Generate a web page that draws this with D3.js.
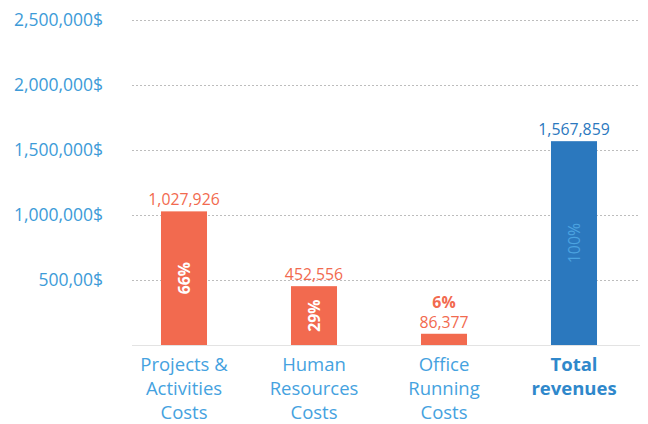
<!DOCTYPE html>
<html lang="en">
<head>
  <meta charset="UTF-8" />
  <title>Costs vs revenues</title>
  <script src="https://cdn.jsdelivr.net/npm/d3@7"></script>
  <style>
    body { margin: 0; background: #fff; }
    text { font-family: "Open Sans", sans-serif; }
  </style>
</head>
<body>
<script>
  // data
  var categories = [["Projects &", "Activities", "Costs"], ["Human", "Resources", "Costs"], ["Office", "Running", "Costs"], ["Total", "revenues"]];
  var values = [1027926, 452556, 86377, 1567859];
  var percents = ["66%", "29%", "6%", "100%"];
  var tickValues = [500000, 1000000, 1500000, 2000000, 2500000];
  var tickLabels = ["500,00$", "1,000,000$", "1,500,000$", "2,000,000$", "2,500,000$"];

  var w = 648, h = 424;
  var orange = "#f26a4f", blue = "#2b78be";

  var svg = d3.select("body").append("svg")
    .attr("width", w)
    .attr("height", h);

  var x = d3.scaleBand()
    .domain(d3.range(values.length))
    .range([119, 639])
    .paddingInner(0.646)
    .paddingOuter(0.323);

  var y = d3.scaleLinear()
    .domain([0, 2500000])
    .range([345, 20]);

  // grid
  svg.selectAll("line.grid")
    .data(tickValues)
    .enter()
    .append("line")
    .attr("class", "grid")
    .attr("x1", 132)
    .attr("x2", 640)
    .attr("y1", function(d) { return y(d) + 0.5; })
    .attr("y2", function(d) { return y(d) + 0.5; })
    .style("stroke", "#bdbdbd")
    .style("stroke-width", 1)
    .style("stroke-dasharray", "2,2");

  svg.append("line")
    .attr("x1", 132).attr("x2", 640)
    .attr("y1", y(0) + 0.5).attr("y2", y(0) + 0.5)
    .style("stroke", "#e3e3e3");

  // y labels
  svg.selectAll("text.ytick")
    .data(tickValues)
    .enter()
    .append("text")
    .attr("class", "ytick")
    .attr("x", 103)
    .attr("y", function(d) { return y(d); })
    .attr("dy", "0.35em")
    .attr("text-anchor", "end")
    .attr("font-size", "17.5px")
    .style("fill", "#3d9bd8")
    .text(function(d, i) { return tickLabels[i]; });

  // bars
  svg.selectAll("rect")
    .data(values)
    .enter()
    .append("rect")
    .attr("x", function(d, i) { return x(i); })
    .attr("width", x.bandwidth())
    .attr("y", function(d) { return y(d); })
    .attr("height", function(d) { return y(0) - y(d); })
    .style("fill", function(d, i) { return i == 3 ? blue : orange; });

  // value labels
  svg.selectAll("text.val")
    .data(values)
    .enter()
    .append("text")
    .attr("class", "val")
    .attr("x", function(d, i) { return x(i) + x.bandwidth() / 2; })
    .attr("y", function(d) { return y(d) - 6; })
    .attr("text-anchor", "middle")
    .attr("font-size", "15.8px")
    .style("fill", function(d, i) { return i == 3 ? blue : orange; })
    .text(function(d) { return d3.format(",")(d); });

  // percent labels (rotated inside bars, except the small one)
  values.forEach(function(d, i) {
    var cx = x(i) + x.bandwidth() / 2;
    if (i == 2) {
      svg.append("text")
        .attr("x", cx)
        .attr("y", y(d) - 26)
        .attr("text-anchor", "middle")
        .attr("font-size", "15.8px")
        .attr("font-weight", "bold")
        .style("fill", orange)
        .text(percents[i]);
      return;
    }
    var cy = (y(d) + y(0)) / 2;
    svg.append("text")
      .attr("transform", "translate(" + cx + "," + cy + ") rotate(-90)")
      .attr("text-anchor", "middle")
      .attr("dy", "0.35em")
      .attr("font-size", "15.8px")
      .attr("font-weight", i == 3 ? "normal" : "bold")
      .style("fill", i == 3 ? "#4ba3e0" : "#fff")
      .text(percents[i]);
  });

  // category labels
  categories.forEach(function(lines, i) {
    var t = svg.append("text")
      .attr("x", x(i) + x.bandwidth() / 2)
      .attr("y", 371)
      .attr("text-anchor", "middle")
      .attr("font-size", "18.5px")
      .attr("font-weight", i == 3 ? "bold" : "normal")
      .style("fill", i == 3 ? "#2f88cb" : "#45a2e0");
    lines.forEach(function(s, j) {
      t.append("tspan")
        .attr("x", x(i) + x.bandwidth() / 2)
        .attr("dy", j == 0 ? 0 : 24)
        .text(s);
    });
  });
</script>
</body>
</html>
